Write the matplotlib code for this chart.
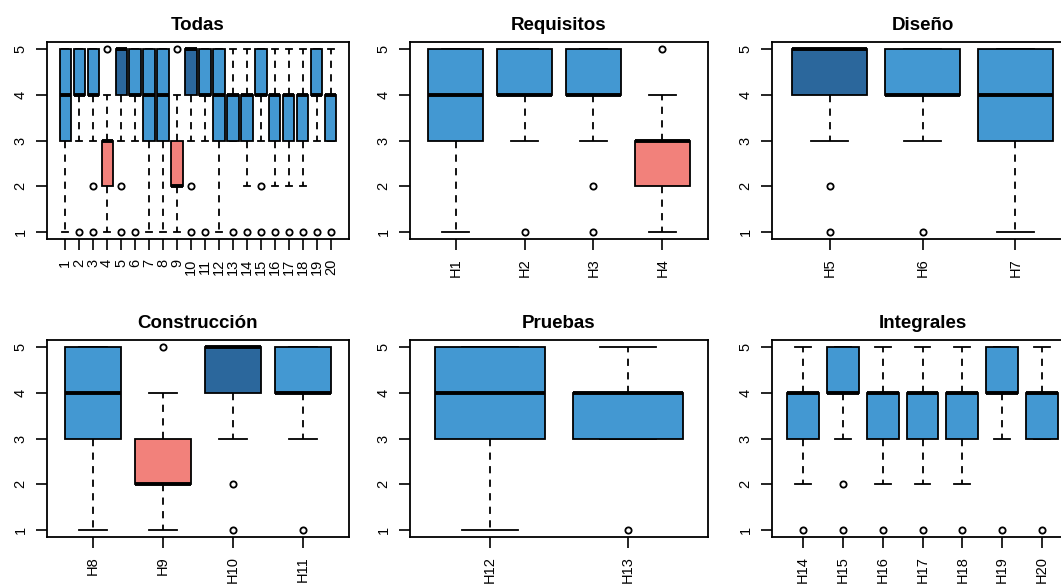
import matplotlib
matplotlib.use("Agg")
import matplotlib.pyplot as plt

plt.rcParams["font.family"] = ["Liberation Sans", "DejaVu Sans"]

# box summaries for the 20 items (Likert 1-5)
items = ["H%d" % i for i in range(1, 21)]
q1 = [3, 4, 4, 2, 4, 4, 3, 3, 2, 4, 4, 3, 3, 3, 4, 3, 3, 3, 4, 3]
med = [4, 4, 4, 3, 5, 4, 4, 4, 2, 5, 4, 4, 4, 4, 4, 4, 4, 4, 4, 4]
q3 = [5, 5, 5, 3, 5, 5, 5, 5, 3, 5, 5, 5, 4, 4, 5, 4, 4, 4, 5, 4]
wlo = [1, 3, 3, 1, 3, 3, 1, 1, 1, 3, 3, 1, 3, 2, 3, 2, 2, 2, 3, 3]
whi = [5, 5, 5, 4, 5, 5, 5, 5, 4, 5, 5, 5, 5, 5, 5, 5, 5, 5, 5, 5]
outliers = [[], [1], [2, 1], [5], [2, 1], [1], [], [], [5], [2, 1], [1], [], [1],
            [1], [2, 1], [1], [1], [1], [1], [1]]

# panels: title and item indices
titles = ["Todas", "Requisitos", "Diseño", "Construcción", "Pruebas", "Integrales"]
groups = [list(range(20)), [0, 1, 2, 3], [4, 5, 6], [7, 8, 9, 10], [11, 12],
          [13, 14, 15, 16, 17, 18, 19]]

LIGHT = "#4398d2"
DARK = "#2b679c"
SALMON = "#f2817b"


def box_colour(m):
    if m >= 5:
        return DARK
    elif m <= 3:
        return SALMON
    return LIGHT


W, H = 1061, 585
fig = plt.figure(figsize=(W / 100, H / 100), dpi=100)

# axes rectangles in pixels (left, right) and (top, bottom)
cols = [(47, 349), (410, 708), (772, 1073)]
rows = [(42, 239), (340, 537)]

for p, (title, idx) in enumerate(zip(titles, groups)):
    r, c = divmod(p, 3)
    x0, x1 = cols[c]
    y0, y1 = rows[r]
    ax = fig.add_axes([x0 / W, 1 - y1 / H, (x1 - x0) / W, (y1 - y0) / H])

    stats = []
    for i in idx:
        stats.append({"q1": q1[i], "med": med[i], "q3": q3[i], "whislo": wlo[i],
                      "whishi": whi[i], "fliers": outliers[i]})
    n = len(idx)
    bp = ax.bxp(stats, positions=range(1, n + 1), widths=0.8, capwidths=0.4,
                patch_artist=True, showfliers=True,
                boxprops=dict(edgecolor="black", linewidth=1.3, zorder=3),
                medianprops=dict(color="black", linewidth=2.8, solid_capstyle="butt", zorder=4),
                whiskerprops=dict(color="black", linewidth=1.3, linestyle=(0, (4, 3.5)), zorder=2),
                capprops=dict(color="black", linewidth=1.3, zorder=2),
                flierprops=dict(marker="o", markerfacecolor="none", markeredgecolor="black",
                                markersize=4.5, markeredgewidth=1.3))
    for patch, i in zip(bp["boxes"], idx):
        patch.set_facecolor(box_colour(med[i]))

    ax.set_xlim(0.5 - 0.04 * n, n + 0.5 + 0.04 * n)
    ax.set_ylim(0.84, 5.16)
    ax.set_yticks([1, 2, 3, 4, 5])
    ax.set_yticklabels(["1", "2", "3", "4", "5"], rotation=90, va="center")
    ax.set_xticks(range(1, n + 1))
    if title == "Todas":
        ax.set_xticklabels([str(i + 1) for i in idx], rotation=90)
    else:
        ax.set_xticklabels([items[i] for i in idx], rotation=90)
    ax.tick_params(axis="both", length=8, width=1.2, labelsize=10.5, colors="black")
    ax.tick_params(axis="x", pad=6)
    ax.tick_params(axis="y", pad=6)
    for s in ax.spines.values():
        s.set_linewidth(1.3)
    ax.set_title(title, fontsize=13.5, fontweight="bold", pad=9)

fig.savefig("out.png", dpi=100)
